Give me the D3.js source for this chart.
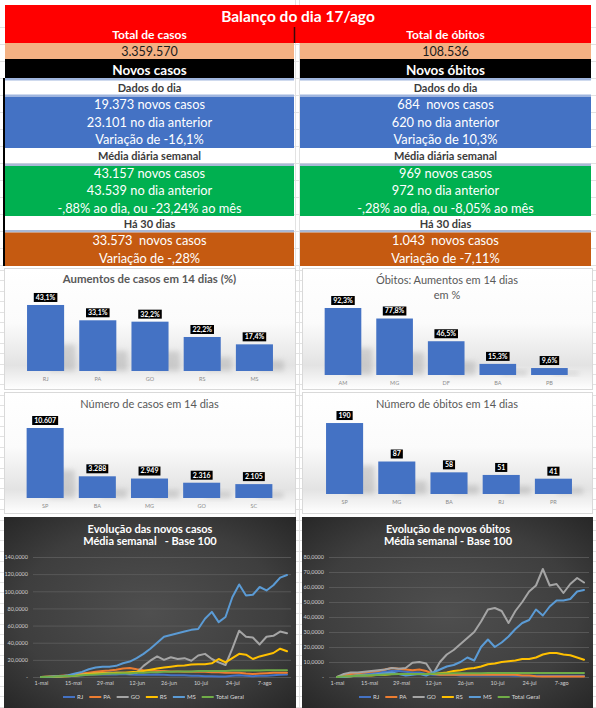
<!DOCTYPE html>
<html lang="pt">
<head>
<meta charset="utf-8">
<script src="https://cdn.jsdelivr.net/npm/d3@7"></script>
<style>
  html, body { margin: 0; padding: 0; background: #fff; }
  svg { display: block; }
  text { font-family: Lato, "Open Sans", sans-serif; }
</style>
</head>
<body>
<div id="chart"></div>
<script>
// ---------- table texts
const headerTitle = 'Balanço do dia 17/ago';
const totalLabels = ['Total de casos', 'Total de óbitos'];
const totalValues = ['3.359.570', '108.536'];
const sectionTitles = ['Novos casos', 'Novos óbitos'];
const subHeads = ['Dados do dia', 'Média diária semanal', 'Há 30 dias'];
const dailyLines = [
  ['19.373 novos casos', '23.101 no dia anterior', 'Variação de -16,1%'],
  ['684  novos casos', '620 no dia anterior', 'Variação de 10,3%']
];
const weeklyLines = [
  ['43.157 novos casos', '43.539 no dia anterior', '-,88% ao dia, ou -23,24% ao mês'],
  ['969 novos casos', '972 no dia anterior', '-,28% ao dia, ou -8,05% ao mês']
];
const monthLines = [
  ['33.573  novos casos', 'Variação de -,28%'],
  ['1.043  novos casos', 'Variação de -7,11%']
];

// ---------- bar charts
const casesGrowthStates = ['RJ', 'PA', 'GO', 'RS', 'MS'];
const casesGrowthValues = [43.1, 33.1, 32.2, 22.2, 17.4];
const deathsGrowthStates = ['AM', 'MG', 'DF', 'BA', 'PB'];
const deathsGrowthValues = [92.3, 77.8, 46.5, 15.3, 9.6];
const casesCountStates = ['SP', 'BA', 'MG', 'GO', 'SC'];
const casesCountValues = [10607, 3288, 2949, 2316, 2105];
const deathsCountStates = ['SP', 'MG', 'BA', 'RJ', 'PR'];
const deathsCountValues = [190, 87, 58, 51, 41];

// ---------- line charts (one point every 3 days, 1-mai .. 17-ago)
const seriesNames = ['RJ', 'PA', 'GO', 'RS', 'MS', 'Total Geral'];
const xTickDates = ['2020-05-01', '2020-05-15', '2020-05-29', '2020-06-12', '2020-06-26', '2020-07-10', '2020-07-24', '2020-08-07'];
const xTickLabels = ['1-mai', '15-mai', '29-mai', '12-jun', '26-jun', '10-jul', '24-jul', '7-ago'];

const casesTicks = [0, 20, 40, 60, 80, 100, 120, 140];
const casesTickLabels = ['-', '20,0000', '40,0000', '60,0000', '80,0000', '100,0000', '120,0000', '140,0000'];
const casesRJ = [0, 0.2, 0.5, 0.8, 1, 1.5, 2, 2.5, 3, 3, 3, 3, 3.5, 3, 2.5, 2.5, 2.5, 3, 2.5, 2, 2, 2, 1.5, 1.5, 1, 1, 0.5, 0.5, 1.5, 2, 1.5, 1, 1.5, 1.5, 2, 2.5, 3];
const casesPA = [0, 0.5, 1, 1.5, 2, 3, 4, 5, 6, 7, 7.5, 8.5, 10, 10.5, 9, 8, 7.5, 7, 7, 6.5, 6.5, 6, 6, 6, 6, 5.5, 5.5, 5, 5, 5, 4, 3.5, 4, 4.5, 5, 5, 5];
const casesGO = [0, 0, 0.5, 1, 1.5, 2, 3, 3.5, 4, 4.5, 5, 5, 5, 4, 5, 13, 19, 24, 20, 23, 21, 22, 19, 25, 27, 21, 17, 14, 33, 54, 47, 46, 38, 47, 48, 53, 51];
const casesRS = [0, 0, 0, 0.5, 1, 1.5, 2.5, 3.5, 4, 4.5, 4.5, 5, 5, 5.5, 6, 7, 8.5, 10, 11, 12, 13, 13.5, 14.5, 15, 15, 16, 21, 17, 22, 27, 26, 21, 24, 26, 28, 33, 30];
const casesMS = [0, 0, 0.5, 1, 2, 4, 6, 9, 11, 12, 12, 13, 16, 18, 22, 27, 33, 40, 47, 49, 51, 53, 55, 56, 68, 76, 64, 70, 93, 108, 95, 96, 105, 101, 107, 116, 119];
const casesTotal = [0, 0.2, 0.5, 1, 1.2, 1.5, 2, 2.5, 3, 3.5, 4, 4, 4.5, 4.5, 5, 5, 5.5, 5.5, 6, 6, 6.5, 6.5, 6.5, 7, 7, 7, 7, 7, 7.5, 7.5, 7.5, 7.5, 7.5, 8, 8, 8, 8];

const deathsTicks = [0, 10, 20, 30, 40, 50, 60, 70, 80];
const deathsTickLabels = ['-', '10,0000', '20,0000', '30,0000', '40,0000', '50,0000', '60,0000', '70,0000', '80,0000'];
const deathsRJ = [0, 0.5, 1, 1.5, 2, 2.5, 3, 3.5, 4, 4, 3.5, 3, 3, 2, 1.5, 1.5, 1.5, 1.5, 1, 1, 1, 1, 1, 1, 1, 1, 0.8, 0.8, 0.8, 0.8, 0.8, 0.8, 0.8, 0.8, 0.8, 0.8, 0.8];
const deathsPA = [0, 1, 2, 2.5, 3, 3.5, 4, 5, 6, 5.5, 5, 4.5, 5, 4, 2, 1.5, 1.5, 1.5, 1.5, 1.5, 1.5, 1.5, 1.5, 1.5, 1.5, 1.5, 1.5, 1, 1, 0.5, 0.3, 0.3, 0.3, 0.3, 0.3, 0.3, 0.3];
const deathsGO = [0, 2, 3, 3, 3.5, 4, 4.5, 5, 6, 5.5, 6, 9.5, 10, 9, 2, 10, 15, 18, 22, 26, 30, 37, 45, 46, 44, 36, 44, 50, 57, 61, 72, 61, 62, 56, 62, 66, 63];
const deathsRS = [0, 0, 0.5, 1, 1, 1, 1.5, 1.5, 2, 2, 2, 2, 2, 2, 2, 2.5, 3, 4, 4.5, 5.5, 6, 7, 8.5, 9, 10, 10.5, 11, 12, 12, 13, 15, 16, 16, 15, 14.5, 13, 11.5];
const deathsMS = [0, 0, 0.5, 1, 1, 1.5, 2, 2.5, 3, 2, 1, 1.5, 2, 1, 3, 5, 7, 8, 10, 13, 11, 20, 25, 20, 23, 27, 32, 36, 38, 45, 41, 47, 51, 51, 52, 57, 58];
const deathsTotal = [0, 0.3, 0.5, 0.8, 1, 1.2, 1.4, 1.6, 1.8, 2, 2, 2, 2, 2, 2.2, 2.3, 2.4, 2.5, 2.5, 2.5, 2.5, 2.5, 2.6, 2.6, 2.6, 2.6, 2.6, 2.6, 2.6, 2.7, 2.7, 2.7, 2.7, 2.7, 2.7, 2.7, 2.7];

const seriesColors = ['#4472C4', '#ED7D31', '#A5A5A5', '#FFC000', '#5B9BD5', '#70AD47'];
const sampleDates = d3.range(casesRJ.length).map(i => d3.timeDay.offset(new Date(2020, 4, 1), i * 3));

const svg = d3.select('#chart').append('svg').attr('width', 596).attr('height', 708);
const defs = svg.append('defs');

function label(g, x, cy, str, size, fill, weight) {
  return g.append('text')
    .attr('x', x)
    .attr('y', cy)
    .attr('dy', '0.35em')
    .attr('text-anchor', 'middle')
    .style('font-size', size + 'px')
    .style('font-weight', weight || 'normal')
    .style('white-space', 'pre')
    .attr('fill', fill)
    .text(str);
}

// spreadsheet grid behind everything
const grid = svg.append('g').attr('stroke', '#e2e2e2').attr('stroke-width', 1);
d3.range(27, 266, 17).concat(d3.range(270, 708, 10.4)).forEach((y) => {
  grid.append('line').attr('x1', 0).attr('x2', 596).attr('y1', Math.round(y) + 0.5).attr('y2', Math.round(y) + 0.5);
});
[295.5, 299.5].forEach((x) => {
  grid.append('line').attr('x1', x).attr('x2', x).attr('y1', 0).attr('y2', 708);
});

// ---------- table
const table = svg.append('g');
table.append('rect').attr('x', 5).attr('y', 5).attr('width', 586).attr('height', 38).attr('fill', '#FF0000');
table.append('line').attr('x1', 294.5).attr('x2', 294.5).attr('y1', 27).attr('y2', 43).attr('stroke', '#3b0a0a').attr('stroke-width', 1.5);
label(table, 298, 17, headerTitle, 15.5, '#fff', 'bold');

const cols = [{ x0: 5, x1: 294 }, { x0: 300, x1: 591 }];
cols.forEach((c, i) => {
  const w = c.x1 - c.x0;
  const cx = (c.x0 + c.x1) / 2;
  const band = (y0, y1, fill) => table.append('rect').attr('x', c.x0).attr('y', y0).attr('width', w).attr('height', y1 - y0).attr('fill', fill);

  label(table, cx, 35, totalLabels[i], 12, '#fff', 'bold');
  band(43, 59, '#F4B183');
  label(table, cx, 51.5, totalValues[i], 12.5, '#1a1a1a');
  band(59, 78, '#000');
  label(table, cx, 70.5, sectionTitles[i], 13.5, '#fff', 'bold');

  band(78, 80.5, '#9FB5DE');
  label(table, cx, 88.3, subHeads[0], 11, '#3b3b3b', 'bold');
  band(94.5, 97, '#9FB5DE');
  band(97, 148, '#4472C4');
  dailyLines[i].forEach((t, k) => label(table, cx, 105 + k * 17.5, t, 12.8, '#fff'));

  label(table, cx, 156, subHeads[1], 11, '#3b3b3b', 'bold');
  band(163.5, 166, '#A9B9D6');
  band(166, 216, '#00B050');
  weeklyLines[i].forEach((t, k) => label(table, cx, 173.3 + k * 17.7, t, 12.8, '#fff'));

  label(table, cx, 224.3, subHeads[2], 11, '#3b3b3b', 'bold');
  band(230, 232.5, '#A9B9D6');
  band(232.5, 266, '#C55A11');
  monthLines[i].forEach((t, k) => label(table, cx, 241 + k * 17.3, t, 12.8, '#fff'));
});
table.append('rect').attr('x', 3).attr('y', 78).attr('width', 2).attr('height', 188).attr('fill', '#000');

// ---------- bar charts
const barBg = defs.append('linearGradient').attr('id', 'barBg').attr('x1', 0).attr('x2', 0).attr('y1', 0).attr('y2', 1);
[[0, '#ffffff'], [0.45, '#fbfbfb'], [0.8, '#e3e3e3'], [0.9, '#f1f1f1'], [1, '#ffffff']].forEach(([o, c]) => {
  barBg.append('stop').attr('offset', o).attr('stop-color', c);
});
defs.append('filter').attr('id', 'soft').attr('x', '-50%').attr('y', '-50%').attr('width', '200%').attr('height', '200%')
  .append('feGaussianBlur').attr('stdDeviation', 2.5);

const fmtPct = v => d3.format('.1f')(v).replace('.', ',') + '%';
const fmtInt = v => d3.format(',')(v).replace(/,/g, '.');

const barPanels = [
  { box: [4, 295, 268, 389], cats: casesGrowthStates, vals: casesGrowthValues, yMax: 50, base: 371, top: 294.4, xr: [11.9, 288.1],
    titles: ['Aumentos de casos em 14 dias (%)'], titleY: [279], titleSize: 11.4, titleWeight: 'bold', fmt: fmtPct },
  { box: [302, 592, 268, 389], cats: deathsGrowthStates, vals: deathsGrowthValues, yMax: 100, base: 375, top: 302.4, xr: [309.7, 582.7],
    titles: ['Óbitos: Aumentos em 14 dias', 'em %'], titleY: [280, 295], titleSize: 11, titleWeight: 'normal', fmt: fmtPct },
  { box: [4, 295, 392, 513], cats: casesCountStates, vals: casesCountValues, yMax: 12000, base: 498, top: 418.8, xr: [11.5, 287.5],
    titles: ['Número de casos em 14 dias'], titleY: [404], titleSize: 11, titleWeight: 'normal', fmt: fmtInt },
  { box: [302, 592, 392, 513], cats: deathsCountStates, vals: deathsCountValues, yMax: 200, base: 494, top: 419.3, xr: [310.9, 587.1],
    titles: ['Número de óbitos em 14 dias'], titleY: [404], titleSize: 11, titleWeight: 'normal', fmt: fmtInt }
];

barPanels.forEach((p) => {
  const [bx0, bx1, by0, by1] = p.box;
  const g = svg.append('g');
  g.append('rect').attr('x', bx0 + 0.5).attr('y', by0 + 0.5).attr('width', bx1 - bx0).attr('height', by1 - by0)
    .attr('fill', 'url(#barBg)').attr('stroke', '#d9d9d9');

  const data = p.cats.map((c, i) => ({ c, v: p.vals[i] }));
  const x = d3.scaleBand().domain(p.cats).range(p.xr).padding(0.29);
  const y = d3.scaleLinear().domain([0, p.yMax]).range([p.base, p.top]);

  p.titles.forEach((t, k) => label(g, (bx0 + bx1) / 2, p.titleY[k], t, p.titleSize, '#595959', p.titleWeight));

  // soft shadow to the right of each bar
  g.selectAll('.shadow').data(data).join('rect')
    .attr('x', d => x(d.c) + x.bandwidth() * 0.6)
    .attr('y', d => p.base - (p.base - y(d.v)) * 0.4)
    .attr('width', x.bandwidth() * 0.7)
    .attr('height', d => (p.base - y(d.v)) * 0.4)
    .attr('fill', '#9a9a9a').attr('opacity', 0.35).attr('filter', 'url(#soft)');

  g.selectAll('.bar').data(data).join('rect')
    .attr('x', d => x(d.c))
    .attr('y', d => y(d.v))
    .attr('width', x.bandwidth())
    .attr('height', d => p.base - y(d.v))
    .attr('fill', '#4472C4');

  data.forEach((d) => {
    const cx = x(d.c) + x.bandwidth() / 2;
    const cy = y(d.v) - 7.5;
    const t = label(g, cx, cy, p.fmt(d.v), 7, '#fff', 'bold');
    const w = t.node().getComputedTextLength() + 4;
    g.insert('rect', () => t.node()).attr('x', cx - w / 2).attr('y', cy - 4.5).attr('width', w).attr('height', 9).attr('fill', '#000');
  });

  const axis = g.append('g').attr('transform', `translate(0,${p.base})`)
    .call(d3.axisBottom(x).tickSize(0).tickPadding(6));
  axis.select('.domain').remove();
  axis.selectAll('text').attr('fill', '#8c8c8c').style('font-size', '5.5px').style('font-family', 'Lato, sans-serif');
});

// ---------- line charts
const darkBg = defs.append('radialGradient').attr('id', 'darkBg').attr('cx', '50%').attr('cy', '50%').attr('r', '75%');
[[0, '#4f4f4f'], [0.6, '#3e3e3e'], [1, '#232323']].forEach(([o, c]) => {
  darkBg.append('stop').attr('offset', o).attr('stop-color', c);
});

const linePanels = [
  { box: [4, 296, 517, 708], titles: ['Evolução das novos casos', 'Média semanal   - Base 100'], cx: 150,
    series: [casesRJ, casesPA, casesGO, casesRS, casesMS, casesTotal], ticks: casesTicks, tickLabels: casesTickLabels, yMax: 140,
    xr: [41, 287], grid: [33, 291], legendX: 63 },
  { box: [302, 593, 517, 708], titles: ['Evolução de novos óbitos', 'Média semanal - Base 100'], cx: 448,
    series: [deathsRJ, deathsPA, deathsGO, deathsRS, deathsMS, deathsTotal], ticks: deathsTicks, tickLabels: deathsTickLabels, yMax: 80,
    xr: [337, 584], grid: [329, 589], legendX: 359 }
];

linePanels.forEach((p) => {
  const [bx0, bx1, by0, by1] = p.box;
  const g = svg.append('g');
  g.append('rect').attr('x', bx0).attr('y', by0).attr('width', bx1 - bx0).attr('height', by1 - by0).attr('fill', 'url(#darkBg)');

  p.titles.forEach((t, k) => label(g, p.cx, 529 + k * 12.5, t, 11, '#fff', 'bold'));

  const x = d3.scaleTime().domain([new Date(2020, 4, 1), new Date(2020, 7, 17)]).range(p.xr);
  const y = d3.scaleLinear().domain([0, p.yMax]).range([677, 557]);

  const yAxis = g.append('g').attr('transform', `translate(${p.grid[0]},0)`)
    .call(d3.axisLeft(y).tickValues(p.ticks).tickFormat((d, i) => p.tickLabels[i])
      .tickSize(-(p.grid[1] - p.grid[0])).tickPadding(5));
  yAxis.select('.domain').remove();
  yAxis.selectAll('line').attr('stroke', '#5e5e5e').attr('stroke-width', 0.8);
  yAxis.selectAll('text').attr('fill', '#d0d0d0').style('font-size', '5.5px').style('font-family', 'Lato, sans-serif');

  const xAxis = g.append('g').attr('transform', 'translate(0,677)')
    .call(d3.axisBottom(x).tickValues(xTickDates.map(d => d3.timeParse('%Y-%m-%d')(d)))
      .tickFormat((d, i) => xTickLabels[i]).tickSize(0).tickPadding(4.5));
  xAxis.select('.domain').remove();
  xAxis.selectAll('text').attr('fill', '#d0d0d0').style('font-size', '5.5px').style('font-family', 'Lato, sans-serif');

  const line = d3.line().x((d, i) => x(sampleDates[i])).y(d => y(d));
  p.series.forEach((s, k) => {
    g.append('path').datum(s)
      .attr('fill', 'none')
      .attr('stroke', seriesColors[k])
      .attr('stroke-width', 2)
      .attr('stroke-linejoin', 'round')
      .attr('stroke-linecap', 'round')
      .attr('d', line);
  });

  // legend
  let lx = p.legendX;
  seriesNames.forEach((name, k) => {
    g.append('line').attr('x1', lx).attr('x2', lx + 12).attr('y1', 697).attr('y2', 697)
      .attr('stroke', seriesColors[k]).attr('stroke-width', 2);
    const t = g.append('text').attr('x', lx + 14).attr('y', 697).attr('dy', '0.35em')
      .attr('fill', '#d9d9d9').style('font-size', '6px').text(name);
    lx += 14 + t.node().getComputedTextLength() + 6;
  });
});
</script>
</body>
</html>
